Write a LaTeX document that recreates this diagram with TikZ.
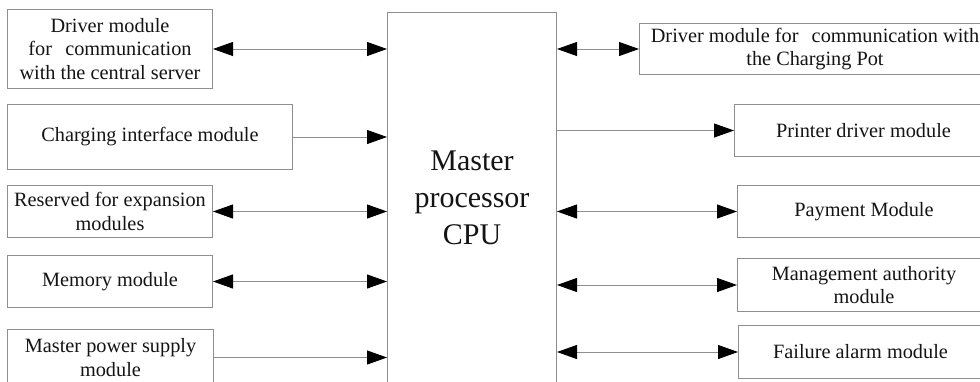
\documentclass[tikz,border=0pt]{standalone}
\usepackage{fontspec}
\setmainfont{Liberation Serif}
\usetikzlibrary{arrows.meta, positioning}
\definecolor{edge}{HTML}{8E8E8E}
\definecolor{ink}{HTML}{141414}

\begin{document}
\begin{tikzpicture}[x=1pt, y=-1pt,
    box/.style={draw=edge, line width=1pt, inner sep=0pt, align=center, anchor=north west,
      text=ink, font=\fontsize{20.3}{23.3}\selectfont},
    link/.style={draw=edge, line width=0.9pt},
    >={Triangle[length=20pt, width=14pt, color=black]}]
  \useasboundingbox (0,0) rectangle (980,381);
  \clip (0,0) rectangle (980,381);

  % processor in the middle
  \node[box, minimum width=169pt, minimum height=371pt, font=\fontsize{30}{36.7}\selectfont] (cpu) at (387,12)
    {Master\\processor\\CPU};

  % modules on the left
  \node[box, minimum width=205pt, minimum height=79pt] (server) at (7,9)
    {Driver module\\for\hspace{0.4em} communication\\with the central server};
  \node[box, minimum width=285pt, minimum height=65pt] (charge) at (7,104) {Charging interface module};
  \node[box, minimum width=205pt, minimum height=52pt] (spare) at (7,185) {Reserved for expansion\\modules};
  \node[box, minimum width=205pt, minimum height=52pt] (memory) at (7,255) {Memory module};
  \node[box, minimum width=206pt, minimum height=56pt] (power) at (7,329) {Master power supply\\module};

  % modules on the right
  \node[box, minimum width=351pt, minimum height=51pt] (pot) at (639,23)
    {Driver module for\hspace{0.4em} communication with\\the Charging Pot};
  \node[box, minimum width=258pt, minimum height=52pt] (printer) at (734,104) {Printer driver module};
  \node[box, minimum width=253pt, minimum height=52pt] (payment) at (737,185) {Payment Module};
  \node[box, minimum width=253pt, minimum height=53pt] (admin) at (737,258) {Management authority\\module};
  \node[box, minimum width=244pt, minimum height=53pt] (alarm) at (738,325) {Failure alarm module};

  \draw[link, <->] (server.east) -- (server.east -| cpu.west);
  \draw[link, ->] (charge.east) -- (charge.east -| cpu.west);
  \draw[link, <->] (spare.east) -- (spare.east -| cpu.west);
  \draw[link, <->] (memory.east) -- (memory.east -| cpu.west);
  \draw[link, ->] (power.east) -- (power.east -| cpu.west);

  \draw[link, <->] (pot.west -| cpu.east) -- (pot.west);
  \draw[link, ->] (printer.west -| cpu.east) -- (printer.west);
  \draw[link, <->] (payment.west -| cpu.east) -- (payment.west);
  \draw[link, <->] (admin.west -| cpu.east) -- (admin.west);
  \draw[link, <->] (alarm.west -| cpu.east) -- (alarm.west);
\end{tikzpicture}
\end{document}
